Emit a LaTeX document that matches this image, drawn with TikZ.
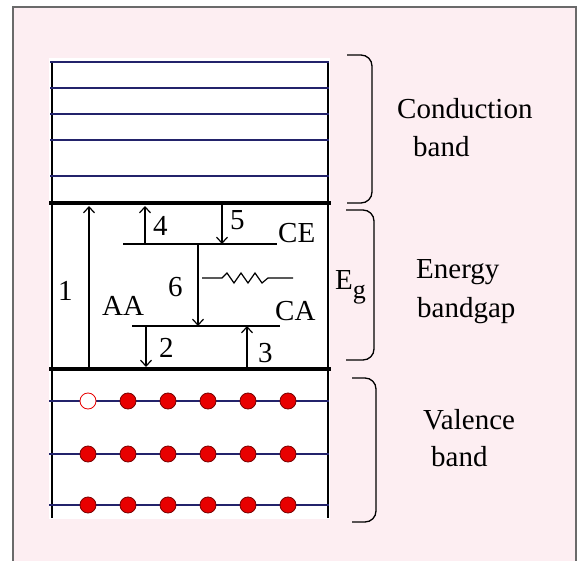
\documentclass[tikz,border=0pt]{standalone}
\usepackage{fontspec}
\setmainfont{Liberation Serif}
\usepackage{tikz}
\usetikzlibrary{arrows.meta}
\usetikzlibrary{positioning}

\definecolor{bgpink}{HTML}{FDEEF2}
\definecolor{bandblue}{HTML}{23236B}
\definecolor{dotred}{HTML}{E80000}
\definecolor{dotedge}{HTML}{7A0000}
\definecolor{framegrey}{HTML}{6A6A6A}

\begin{document}
\begin{tikzpicture}[x=1pt,y=-1pt,
  lbl/.style={inner sep=0pt,anchor=base west,font=\fontsize{29}{33}\selectfont},
  band/.style={draw=bandblue,line width=1.3pt},
  edgeline/.style={line width=4pt},
  tr/.style={line width=1.2pt,-{Straight Barb[length=6pt,width=11pt]}},
  electron/.style={circle,fill=dotred,draw=dotedge,line width=0.8pt,minimum size=16pt,inner sep=0pt},
  hole/.style={electron,fill=white,draw=dotred},
  brc/.style={line width=1.3pt,rounded corners=11pt}]
  \useasboundingbox (0,0) rectangle (578,561);
  % page and frame
  \fill[white] (0,0) rectangle (578,561);
  \fill[bgpink] (13,7) rectangle (576,561);
  \draw[framegrey,line width=1.5pt] (13,561) -- (13,7) -- (576,7) -- (576,561);
  \fill[white] (49,58) rectangle (330,519);
  \draw[line width=1.5pt] (52,62) -- (52,518);
  \draw[line width=1.5pt] (328,62) -- (328,518);

  % conduction band
  \foreach \y in {62,88,114,140,176}
    \draw[band] (50,\y) -- (329,\y);
  \draw[edgeline] (49,203) -- (331,203);
  \draw[edgeline] (49,369) -- (331,369);

  % valence band
  \foreach \y in {401,454,505}
    \draw[band] (49,\y) -- (329,\y);
  \node[hole] (h11) at (88,401) {};
  \foreach \x [count=\c from 2] in {128,168,208,248,288}
    \node[electron] (e1\c) at (\x,401) {};
  \foreach \y [count=\r from 2] in {454,505}
    \foreach \x [count=\c] in {88,128,168,208,248,288}
      \node[electron] (e\r\c) at (\x,\y) {};

  % trap levels
  \coordinate (ceL) at (123,244);
  \coordinate (ceR) at (277,244);
  \coordinate (caL) at (132,326);
  \coordinate (caR) at (280,326);
  \draw[line width=1.2pt] (ceL) -- (ceR);
  \draw[line width=1.2pt] (caL) -- (caR);

  % transitions
  \coordinate (t1a) at (89,367);  \coordinate (t1b) at (89,206);
  \coordinate (t4a) at (145,244); \coordinate (t4b) at (145,206);
  \coordinate (t5a) at (222,205); \coordinate (t5b) at (222,244);
  \coordinate (t6a) at (198,244); \coordinate (t6b) at (198,326);
  \coordinate (t2a) at (146,326); \coordinate (t2b) at (146,367);
  \coordinate (t3a) at (247,367); \coordinate (t3b) at (247,326);
  \draw[tr] (t1a) -- (t1b);
  \draw[tr] (t4a) -- (t4b);
  \draw[tr] (t5a) -- (t5b);
  \draw[tr] (t6a) -- (t6b);
  \draw[tr] (t2a) -- (t2b);
  \draw[tr] (t3a) -- (t3b);

  % phonon
  \coordinate (ph1) at (202,278);
  \coordinate (ph2) at (293,278);
  \draw[line width=1.2pt] (ph1) -- (222,278) -- (227,273) -- (234,283) -- (241,273)
    -- (248,283) -- (255,273) -- (262,283) -- (268,278) -- (ph2);

  \node[lbl] (n1) at (58,301) {1};
  \node[lbl] (n4) at (153,236) {4};
  \node[lbl] (n5) at (230,230) {5};
  \node[lbl] (n6) at (168,296) {6};
  \node[lbl] (n2) at (159,357) {2};
  \node[lbl] (n3) at (258,362) {3};
  \node[lbl] (aa) at (102,315) {AA};
  \node[lbl] (ce) at (278,243) {CE};
  \node[lbl] (ca) at (275,320) {CA};
  \node[lbl] (eg) at (335,290) {E\raisebox{-9pt}{\fontsize{26}{28}\selectfont g}};

  % braces
  \draw[brc] (347,55) -- (372,55) -- (372,203) -- (347,203);
  \draw[brc] (346,210) -- (374,210) -- (374,360) -- (346,360);
  \draw[brc] (352,378) -- (376,378) -- (376,522) -- (352,522);

  \node[lbl] (cb1) at (397,119) {Conduction};
  \node[lbl] (cb2) at (413,157) {band};
  \node[lbl] (gp1) at (416,279) {Energy};
  \node[lbl] (gp2) at (417,317) {bandgap};
  \node[lbl] (vb1) at (423,429) {Valence};
  \node[lbl] (vb2) at (431,466) {band};
\end{tikzpicture}
\end{document}
